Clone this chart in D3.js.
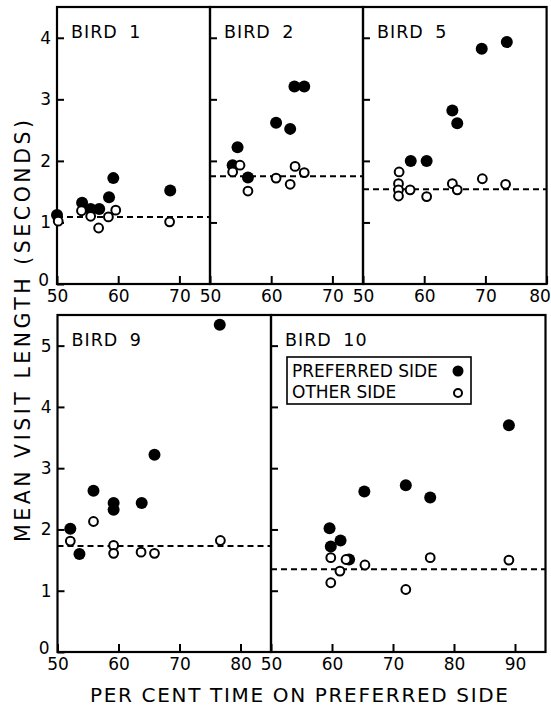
<!DOCTYPE html>
<html>
<head>
<meta charset="utf-8">
<script src="https://cdn.jsdelivr.net/npm/d3@7"></script>
<style>
  body { margin: 0; background: #fff; }
  svg { display: block; font-family: "DejaVu Sans", sans-serif; }
</style>
</head>
<body>
<svg width="551" height="707"></svg>
<script>
// ==================================
// Data (per cent time on preferred side, mean visit length in s)
// ==================================
const bird1Preferred = [[50.0, 1.12], [54.1, 1.32], [55.5, 1.22], [56.9, 1.22], [58.5, 1.41], [59.2, 1.72], [68.5, 1.52]];
const bird1Other = [[50.2, 1.02], [54.0, 1.19], [55.5, 1.10], [56.8, 0.91], [58.4, 1.09], [59.6, 1.20], [68.4, 1.01]];
const bird1Mean = 1.09;

const bird2Preferred = [[53.7, 1.93], [54.5, 2.22], [56.2, 1.73], [60.8, 2.62], [63.1, 2.52], [63.8, 3.21], [65.4, 3.21]];
const bird2Other = [[53.7, 1.82], [54.9, 1.93], [56.2, 1.51], [60.8, 1.72], [63.1, 1.62], [63.9, 1.91], [65.4, 1.81]];
const bird2Mean = 1.75;

const bird5Preferred = [[57.8, 2.0], [60.4, 2.0], [64.6, 2.82], [65.4, 2.61], [69.4, 3.82], [73.5, 3.93]];
const bird5Other = [[55.9, 1.82], [55.8, 1.63], [55.8, 1.53], [55.8, 1.43], [57.7, 1.53], [60.4, 1.42], [64.6, 1.63], [65.4, 1.53], [69.5, 1.71], [73.3, 1.62]];
const bird5Mean = 1.54;

const bird9Preferred = [[52.1, 2.01], [53.6, 1.60], [55.9, 2.63], [59.2, 2.43], [59.2, 2.32], [63.8, 2.43], [65.9, 3.22], [76.6, 5.34]];
const bird9Other = [[52.1, 1.81], [55.9, 2.13], [59.2, 1.74], [59.2, 1.61], [63.7, 1.63], [65.9, 1.61], [76.7, 1.82]];
const bird9Mean = 1.73;

const bird10Preferred = [[59.6, 2.02], [59.8, 1.72], [61.4, 1.82], [62.8, 1.51], [65.3, 2.62], [72.1, 2.72], [76.1, 2.52], [89.0, 3.70]];
const bird10Other = [[59.8, 1.54], [61.3, 1.32], [59.8, 1.13], [62.3, 1.51], [65.4, 1.42], [72.1, 1.02], [76.1, 1.54], [89.0, 1.50]];
const bird10Mean = 1.35;

// tick labels
const topYTicks = [0, 1, 2, 3, 4];
const bottomYTicks = [0, 1, 2, 3, 4, 5];
const xTicks70 = [50, 60, 70];
const xTicks80 = [50, 60, 70, 80];
const xTicks90 = [50, 60, 70, 80, 90];

const legendLabels = ["PREFERRED SIDE", "OTHER SIDE"];
const yTitle = "MEAN VISIT LENGTH (SECONDS)";
const xTitle = "PER CENT TIME ON PREFERRED SIDE";

// ==================================
// Setting the Stage
// ==================================
const svg = d3.select("svg");

const topRow = { top: 7, height: 277, yMax: 4.5, yTicks: topYTicks, k: 6.12, left: 57 };
const bottomRow = { top: 315, height: 337, yMax: 5.5, yTicks: bottomYTicks, k: 6.1, left: 57.5 };

const panels = [
  { title: "BIRD 1", row: topRow, xMax: 75, xTicks: xTicks70, preferred: bird1Preferred, other: bird1Other, mean: bird1Mean },
  { title: "BIRD 2", row: topRow, xMax: 75, xTicks: xTicks70, preferred: bird2Preferred, other: bird2Other, mean: bird2Mean },
  { title: "BIRD 5", row: topRow, xMax: 80, xTicks: xTicks80, preferred: bird5Preferred, other: bird5Other, mean: bird5Mean },
  { title: "BIRD 9", row: bottomRow, xMax: 85, xTicks: xTicks80, preferred: bird9Preferred, other: bird9Other, mean: bird9Mean },
  { title: "BIRD 10", row: bottomRow, xMax: 95, xTicks: xTicks90, preferred: bird10Preferred, other: bird10Other, mean: bird10Mean, legend: true }
];

// lay panels side by side in each row
let cursor = new Map();
panels.forEach(p => {
  const start = cursor.has(p.row) ? cursor.get(p.row) : p.row.left;
  p.left = start;
  p.width = (p.xMax - 50) * p.row.k;
  p.first = !cursor.has(p.row);
  cursor.set(p.row, start + p.width);
});

function styleAxis(a) {
  a.attr("font-size", null).attr("font-family", null);
  a.select(".domain").remove();
  a.selectAll(".tick line").attr("stroke", "#000").attr("stroke-width", 2);
  a.selectAll(".tick text").attr("fill", "#000").attr("font-size", 17);
}

// ==================================
// Drawing the panels
// ==================================
panels.forEach(p => {
  const h = p.row.height;
  const g = svg.append("g").attr("transform", `translate(${p.left},${p.row.top})`);

  const x = d3.scaleLinear().domain([50, p.xMax]).range([0, p.width]);
  const y = d3.scaleLinear().domain([0, p.row.yMax]).range([h, 0]);

  // frame
  g.append("rect")
    .attr("width", p.width).attr("height", h)
    .attr("fill", "none").attr("stroke", "#000").attr("stroke-width", 2.2);

  // bottom axis, ticks pointing in
  const xAxis = g.append("g")
    .attr("transform", `translate(0,${h})`)
    .call(d3.axisBottom(x).tickValues(p.xTicks).tickSizeInner(-8).tickSizeOuter(0).tickPadding(6).tickFormat(d3.format("d")))
    .call(styleAxis);
  // the label on the right edge of the figure is pulled in a little
  if (p.left + p.width > 540) {
    xAxis.selectAll(".tick text").filter(d => d === p.xMax).attr("dx", -7);
  }

  // left axis, labels only on the first panel of a row
  g.append("g")
    .call(d3.axisLeft(y)
      .tickValues(p.first ? p.row.yTicks : p.row.yTicks.filter(d => d > 0))
      .tickSizeInner(-7).tickSizeOuter(0).tickPadding(6)
      .tickFormat(p.first ? d3.format("d") : ""))
    .call(styleAxis)
    .call(a => a.selectAll(".tick text").filter(d => d === 0).attr("y", -4).attr("x", -8));

  // title
  g.append("text")
    .attr("x", 14).attr("y", 31)
    .attr("font-size", 17.5)
    .attr("letter-spacing", 1)
    .attr("word-spacing", 5)
    .text(p.title);

  // dashed mean line
  g.append("line")
    .attr("x1", 0).attr("x2", p.width)
    .attr("y1", y(p.mean)).attr("y2", y(p.mean))
    .attr("stroke", "#000").attr("stroke-width", 2)
    .attr("stroke-dasharray", "6,4");

  // preferred side (filled)
  g.selectAll(".pref")
    .data(p.preferred)
    .enter()
    .append("circle")
    .attr("class", "pref")
    .attr("cx", d => x(d[0]))
    .attr("cy", d => y(d[1]))
    .attr("r", 6)
    .attr("fill", "#000");

  // other side (open)
  g.selectAll(".other")
    .data(p.other)
    .enter()
    .append("circle")
    .attr("class", "other")
    .attr("cx", d => x(d[0]))
    .attr("cy", d => y(d[1]))
    .attr("r", 4.4)
    .attr("fill", "#fff")
    .attr("stroke", "#000")
    .attr("stroke-width", 2);

  // ==================================
  // Legend
  // ==================================
  if (p.legend) {
    const lg = g.append("g").attr("transform", "translate(16,42)");
    lg.append("rect")
      .attr("width", 184).attr("height", 47)
      .attr("fill", "#fff").attr("stroke", "#000").attr("stroke-width", 1.6);
    legendLabels.forEach((label, i) => {
      lg.append("text")
        .attr("x", 5).attr("y", 20 + i * 21)
        .attr("font-size", 17)
        .text(label);
      lg.append("circle")
        .attr("cx", 171).attr("cy", 14 + i * 22)
        .attr("r", i === 0 ? 5.5 : 4)
        .attr("fill", i === 0 ? "#000" : "#fff")
        .attr("stroke", "#000")
        .attr("stroke-width", i === 0 ? 0 : 2);
    });
  }
});

// ==================================
// Axis titles
// ==================================
svg.append("text")
  .attr("transform", "translate(30,331) rotate(-90)")
  .attr("text-anchor", "middle")
  .attr("font-size", 20.5)
  .attr("textLength", 422)
  .attr("lengthAdjust", "spacing")
  .text(yTitle);

svg.append("text")
  .attr("x", 299).attr("y", 702)
  .attr("text-anchor", "middle")
  .attr("font-size", 20)
  .attr("textLength", 418)
  .attr("lengthAdjust", "spacing")
  .text(xTitle);
</script>
</body>
</html>
